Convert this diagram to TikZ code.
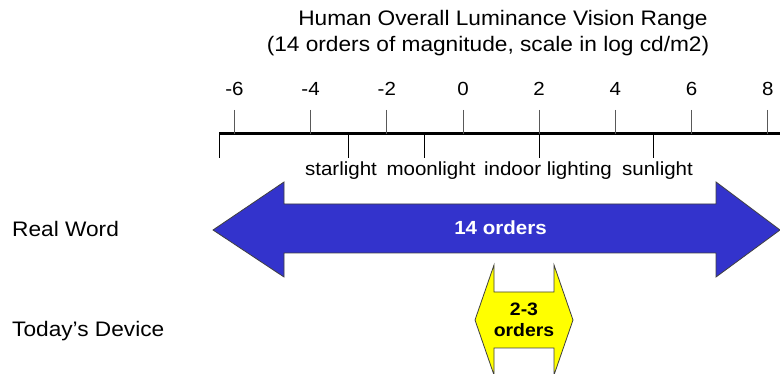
\documentclass[tikz,border=0pt]{standalone}
\usepackage{fontspec}
\setmainfont[FakeStretch=1.08]{Liberation Sans}
\usetikzlibrary{positioning}
\definecolor{rangeblue}{RGB}{51,51,204}
\definecolor{devyellow}{RGB}{255,255,0}

\begin{document}
\begin{tikzpicture}[x=1pt, y=-1pt,
  txt/.style={font=\fontsize{19}{22}\selectfont, inner sep=0pt, anchor=base},
  head/.style={txt, font=\fontsize{21}{24}\selectfont},
  side/.style={txt, font=\fontsize{21}{24}\selectfont, anchor=base west},
  hitick/.style={draw=black!65, line width=0.9pt},
  lotick/.style={draw=black, line width=0.9pt},
  band/.style={draw=black!75, line width=0.8pt, line join=miter},
  inlbl/.style={font=\bfseries\fontsize{19}{21}\selectfont, inner sep=0pt, align=center}
]
\useasboundingbox (0,0) rectangle (780,374);
% title
\node[head] (t1) at (503,26) {Human Overall Luminance Vision Range};
\node[head] (t2) at (488,52) {(14 orders of magnitude, scale in log cd/m2)};
% scale
\draw[line width=3pt] (219,134) -- (780,134);
\foreach \v in {-6,-4,...,8}{
  \draw[hitick] ({463+38.1*\v},110) -- ({463+38.1*\v},134);
  \node[txt] (n\v) at ({463+38.1*\v},96) {\v};
}
\foreach \v in {-3,-1,2,5}\draw[lotick] ({463+38.1*\v},134) -- ({463+38.1*\v},158);
\draw[lotick] (219,134) -- (219,158);
\node[txt] (star) at (341,176) {starlight};
\node[txt] (moon) at (431,176) {moonlight};
\node[txt] (indoor) at (548,176) {indoor lighting};
\node[txt] (sun) at (657.5,176) {sunlight};
% rows
\node[side] (real) at (12,237) {Real Word};
\node[side] (today) at (12,337) {Today’s Device};
% arrows
\draw[band, fill=rangeblue] (213,230) -- (284,182) -- (284,204) -- (716,204)
  -- (716,182) -- (780,230) -- (716,277) -- (716,253) -- (284,253)
  -- (284,277) -- cycle;
\node[inlbl, text=white, anchor=base] (eye) at (500.5,235) {14 orders};
\draw[band, fill=devyellow] (475,320) -- (494,265) -- (494,292) -- (554,292)
  -- (554,265) -- (573,320) -- (554,375) -- (554,348) -- (494,348)
  -- (494,375) -- cycle;
\node[inlbl, font=\bfseries\fontsize{18}{21}\selectfont] (dev) at (524,320) {2-3\\orders};
\end{tikzpicture}
\end{document}
